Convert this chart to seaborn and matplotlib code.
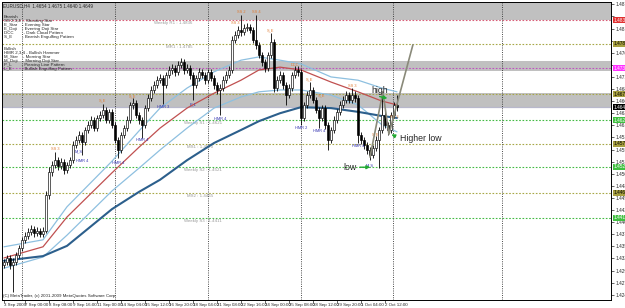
import matplotlib
matplotlib.use("Agg")
import matplotlib.pyplot as plt
import matplotlib.transforms as mtransforms
import numpy as np
import pandas as pd
import seaborn as sns

sns.set_style("white")
plt.rcParams['font.family'] = ['Liberation Sans', 'DejaVu Sans']

# ---------------- data (EURUSD H4) ----------------
opens = [1.4310, 1.4316, 1.4325, 1.4310, 1.4316, 1.4331, 1.4346, 1.4364, 1.4372, 1.4381,
         1.4387, 1.4379, 1.4383, 1.4377, 1.4383, 1.4460, 1.4510, 1.4525, 1.4535, 1.4523,
         1.4531, 1.4514, 1.4525, 1.4535, 1.4568, 1.4578, 1.4589, 1.4574, 1.4600, 1.4611,
         1.4621, 1.4604, 1.4626, 1.4632, 1.4643, 1.4621, 1.4639, 1.4611, 1.4578, 1.4557,
         1.4589, 1.4604, 1.4621, 1.4654, 1.4658, 1.4632, 1.4621, 1.4611, 1.4647, 1.4669,
         1.4686, 1.4697, 1.4707, 1.4712, 1.4697, 1.4718, 1.4729, 1.4733, 1.4725, 1.4740,
         1.4746, 1.4729, 1.4733, 1.4718, 1.4697, 1.4712, 1.4725, 1.4718, 1.4707, 1.4725,
         1.4712, 1.4697, 1.4686, 1.4690, 1.4707, 1.4718, 1.4729, 1.4793, 1.4804, 1.4815,
         1.4811, 1.4819, 1.4821, 1.4815, 1.4793, 1.4783, 1.4761, 1.4746, 1.4733, 1.4761,
         1.4789, 1.4690, 1.4707, 1.4718, 1.4697, 1.4675, 1.4690, 1.4718, 1.4729, 1.4725,
         1.4626, 1.4654, 1.4675, 1.4686, 1.4664, 1.4643, 1.4626, 1.4647, 1.4611, 1.4578,
         1.4600, 1.4621, 1.4639, 1.4654, 1.4664, 1.4675, 1.4664, 1.4675, 1.4669, 1.4589,
         1.4578, 1.4568, 1.4557, 1.4546, 1.4561, 1.4578, 1.4600, 1.4632, 1.4611, 1.4600,
         1.4632, 1.4654]
closes = [1.4316, 1.4325, 1.4310, 1.4316, 1.4331, 1.4346, 1.4364, 1.4372, 1.4381, 1.4387,
          1.4379, 1.4383, 1.4377, 1.4383, 1.4460, 1.4510, 1.4525, 1.4535, 1.4523, 1.4531,
          1.4514, 1.4525, 1.4535, 1.4568, 1.4578, 1.4589, 1.4574, 1.4600, 1.4611, 1.4621,
          1.4604, 1.4626, 1.4632, 1.4643, 1.4621, 1.4639, 1.4611, 1.4578, 1.4557, 1.4589,
          1.4604, 1.4621, 1.4654, 1.4658, 1.4632, 1.4621, 1.4611, 1.4647, 1.4669, 1.4686,
          1.4697, 1.4707, 1.4712, 1.4697, 1.4718, 1.4729, 1.4733, 1.4725, 1.4740, 1.4746,
          1.4729, 1.4733, 1.4718, 1.4697, 1.4712, 1.4725, 1.4718, 1.4707, 1.4725, 1.4712,
          1.4697, 1.4686, 1.4690, 1.4707, 1.4718, 1.4729, 1.4793, 1.4804, 1.4815, 1.4811,
          1.4819, 1.4821, 1.4815, 1.4793, 1.4783, 1.4761, 1.4746, 1.4733, 1.4761, 1.4789,
          1.4690, 1.4707, 1.4718, 1.4697, 1.4675, 1.4690, 1.4718, 1.4729, 1.4725, 1.4626,
          1.4654, 1.4675, 1.4686, 1.4664, 1.4643, 1.4626, 1.4647, 1.4611, 1.4578, 1.4600,
          1.4621, 1.4639, 1.4654, 1.4664, 1.4675, 1.4664, 1.4675, 1.4669, 1.4589, 1.4578,
          1.4568, 1.4557, 1.4546, 1.4561, 1.4578, 1.4600, 1.4632, 1.4611, 1.4600, 1.4632,
          1.4654, 1.4649]
highs = [1.4323, 1.4332, 1.4331, 1.4324, 1.4338, 1.4353, 1.4371, 1.4380, 1.4390, 1.4395,
         1.4393, 1.4391, 1.4390, 1.4392, 1.4468, 1.4520, 1.4534, 1.4553, 1.4542, 1.4539,
         1.4538, 1.4532, 1.4543, 1.4576, 1.4586, 1.4597, 1.4595, 1.4607, 1.4619, 1.4630,
         1.4628, 1.4633, 1.4640, 1.4656, 1.4650, 1.4646, 1.4645, 1.4618, 1.4585, 1.4596,
         1.4611, 1.4629, 1.4661, 1.4669, 1.4665, 1.4639, 1.4628, 1.4654, 1.4677, 1.4694,
         1.4705, 1.4715, 1.4720, 1.4719, 1.4725, 1.4737, 1.4742, 1.4740, 1.4748, 1.4755,
         1.4753, 1.4741, 1.4740, 1.4725, 1.4719, 1.4733, 1.4732, 1.4725, 1.4732, 1.4731,
         1.4719, 1.4704, 1.4698, 1.4715, 1.4726, 1.4737, 1.4801, 1.4812, 1.4823, 1.4847,
         1.4827, 1.4829, 1.4828, 1.4822, 1.4847, 1.4790, 1.4768, 1.4753, 1.4768, 1.4808,
         1.4796, 1.4715, 1.4726, 1.4725, 1.4704, 1.4698, 1.4725, 1.4738, 1.4737, 1.4732,
         1.4661, 1.4683, 1.4703, 1.4693, 1.4671, 1.4650, 1.4654, 1.4654, 1.4618, 1.4607,
         1.4629, 1.4646, 1.4662, 1.4672, 1.4683, 1.4682, 1.4690, 1.4683, 1.4676, 1.4596,
         1.4585, 1.4575, 1.4564, 1.4568, 1.4586, 1.4607, 1.4679, 1.4640, 1.4618, 1.4639,
         1.4661, 1.4675]
lows = [1.4303, 1.4309, 1.4302, 1.4252, 1.4310, 1.4325, 1.4340, 1.4357, 1.4366, 1.4375,
        1.4371, 1.4372, 1.4369, 1.4370, 1.4378, 1.4452, 1.4502, 1.4518, 1.4515, 1.4516,
        1.4506, 1.4508, 1.4519, 1.4530, 1.4561, 1.4571, 1.4546, 1.4568, 1.4593, 1.4604,
        1.4597, 1.4598, 1.4619, 1.4625, 1.4614, 1.4615, 1.4604, 1.4571, 1.4540, 1.4550,
        1.4582, 1.4597, 1.4615, 1.4646, 1.4625, 1.4613, 1.4583, 1.4604, 1.4640, 1.4662,
        1.4679, 1.4690, 1.4700, 1.4656, 1.4690, 1.4711, 1.4721, 1.4717, 1.4718, 1.4733,
        1.4721, 1.4722, 1.4710, 1.4664, 1.4690, 1.4705, 1.4711, 1.4699, 1.4700, 1.4705,
        1.4689, 1.4678, 1.4632, 1.4683, 1.4700, 1.4711, 1.4722, 1.4786, 1.4797, 1.4803,
        1.4804, 1.4812, 1.4808, 1.4786, 1.4775, 1.4754, 1.4738, 1.4725, 1.4727, 1.4754,
        1.4682, 1.4683, 1.4700, 1.4689, 1.4654, 1.4668, 1.4683, 1.4711, 1.4717, 1.4611,
        1.4619, 1.4647, 1.4668, 1.4657, 1.4636, 1.4604, 1.4619, 1.4603, 1.4557, 1.4571,
        1.4593, 1.4614, 1.4632, 1.4647, 1.4657, 1.4657, 1.4657, 1.4661, 1.4572, 1.4570,
        1.4560, 1.4549, 1.4535, 1.4539, 1.4554, 1.4518, 1.4593, 1.4604, 1.4590, 1.4593,
        1.4625, 1.4640]

# moving averages / envelope, sampled at bar indices
ma_bars = [0, 13, 21, 36, 45, 52, 61, 70, 79, 85, 92, 99, 109, 118, 126, 131]
ma_slow = [1.4319, 1.4329, 1.4351, 1.4430, 1.4467, 1.4493, 1.4535, 1.4572, 1.4600, 1.4619,
           1.4636, 1.4649, 1.4647, 1.4639, 1.4630, 1.4626]
ma_mid = [1.4325, 1.4349, 1.4413, 1.4508, 1.4563, 1.4604, 1.4647, 1.4679, 1.4707, 1.4729,
          1.4735, 1.4729, 1.4703, 1.4682, 1.4662, 1.4654]
band_up = [1.4349, 1.4364, 1.4435, 1.4533, 1.4598, 1.4647, 1.4690, 1.4725, 1.4750, 1.4757,
           1.4750, 1.4742, 1.4714, 1.4707, 1.4690, 1.4682]
band_dn = [1.4303, 1.4327, 1.4374, 1.4469, 1.4518, 1.4557, 1.4604, 1.4647, 1.4671, 1.4682,
           1.4686, 1.4686, 1.4675, 1.4654, 1.4611, 1.4596]

# hand-drawn zigzag
zig_bars = [122, 126.3, 128.3, 136.3]
zig_prices = [1.4542, 1.4682, 1.4591, 1.4783]

# time axis
time_bars = [0, 7, 15, 23, 31, 39, 47, 55, 63, 71, 79, 87, 95, 103, 111, 119, 127]
time_labels = ["3 Sep 2009", "7 Sep 00:00", "8 Sep 08:00", "9 Sep 16:00", "11 Sep 00:00",
               "14 Sep 04:00", "15 Sep 12:00", "16 Sep 20:00", "18 Sep 04:00",
               "21 Sep 08:00", "22 Sep 16:00", "24 Sep 00:00", "25 Sep 08:00",
               "28 Sep 12:00", "29 Sep 20:00", "1 Oct 04:00", "2 Oct 12:00"]
vgrid_bars = [6, 37, 68, 99, 129.5, 166]

# price axis
price_ticks = [1.4870, 1.4844, 1.4818, 1.4792, 1.4766, 1.4740, 1.4714, 1.4688, 1.4662,
               1.4636, 1.4610, 1.4584, 1.4558, 1.4532, 1.4506, 1.4480, 1.4454, 1.4428,
               1.4402, 1.4376, 1.4350, 1.4324, 1.4298, 1.4272, 1.4246]

# horizontal levels
level_values = [1.4836, 1.4785, 1.4733, 1.4677, 1.4621, 1.4570, 1.4521, 1.4465, 1.4411]
level_colors = ["#d8607a", "#a8a848", "#c050c0", "#a8a848", "#44bb44", "#a8a848",
                "#44bb44", "#a8a848", "#44bb44"]
label_bg = ["#e03030", "#a8a040", "#ff30ff", "#a8a040", "#40c040", "#a8a040",
            "#40c040", "#a8a040", "#40c040"]
level_names = ["Weekly R1 : ", "MR1 : ", "", "", "Weekly S1 : ", "MS1 : ",
               "Weekly S2 : ", "MS2 : ", "Weekly S3 : "]
level_name_bars = [50, 54, 0, 0, 60, 61, 60, 61, 60]
current_price = 1.4649

gray_bands = [(1.4836, 1.4880), (1.4727, 1.4748), (1.4647, 1.4679)]

pattern_bars = [17, 33, 43, 77, 79, 84, 89, 97, 102, 106, 116, 124, 130,
                25, 26, 38, 46, 53, 63, 72, 99, 105, 118, 122]
pattern_prices = [1.4560, 1.4664, 1.4673, 1.4830, 1.4853, 1.4853, 1.4815, 1.4740, 1.4708,
                  1.4675, 1.4695, 1.4590, 1.4628,
                  1.4553, 1.4534, 1.4530, 1.4578, 1.4650, 1.4656, 1.4624, 1.4604, 1.4598,
                  1.4566, 1.4524]
pattern_texts = ["SS 3", "S_E", "S_E", "SS 3", "SS 2", "SS 4", "S_E", "DCC", "S_E",
                 "S_E", "SS 3", "S_E", "SS 3",
                 "M_S", "HMR 4", "HMR 4", "HMR 4", "HMR 3", "P_L", "HMR 4", "HMR 2",
                 "HMR 4", "HMR 4", "M_S"]

legend_bear = ["Bearish", "SS 2,3,4  - Shooting Star", "E_Star    - Evening Star",
               "E_Doji    - Evening Doji Star", "DCC        - Dark Cloud Pattern",
               "S_E        - Bearish Engulfing Pattern"]
legend_bull = ["Bullish", "HMR 2,3,4 - Bullish Hammer", "M_Star    - Morning Star",
               "M_Doji    - Morning Doji Star", "P_L        - Piercing Line Pattern",
               "L_E        - Bullish Engulfing Pattern"]

# ---------------- figure ----------------
W, H = 625, 308
fig = plt.figure(figsize=(W / 100, H / 100), dpi=100)
ax = fig.add_axes([2 / W, 8 / H, 609 / W, 298 / H])
x_lo, x_hi = -0.667, 202.33
y_hi = 1.4875
y_lo = 1.4875 - 298 * 0.00021487
ax.set_xlim(x_lo, x_hi)
ax.set_ylim(y_lo, y_hi)

# gray zones
for lo, hi in gray_bands:
    ax.axhspan(lo, hi, color="#c0c0c0", lw=0, zorder=0)

# level lines
for v, c in zip(level_values, level_colors):
    ax.axhline(v, color=c, lw=0.8, ls=(0, (1.5, 1.5)), zorder=1)
ax.axhline(current_price, color="#b8b8cc", lw=0.9, zorder=1)

# vertical grid
for b in vgrid_bars:
    ax.axvline(b, color="#333333", lw=0.6, ls=(0, (1.2, 1.5)), zorder=1)

# level names
for name, b, v in zip(level_names, level_name_bars, level_values):
    if name:
        ax.text(b, v - 0.0002, f"{name}{v:.4f}", fontsize=3.2, color="#9a9a9a",
                va="top", ha="left", zorder=2)

# moving averages (seaborn)
ma_df = pd.DataFrame({"bar": ma_bars, "slow": ma_slow, "mid": ma_mid,
                      "up": band_up, "dn": band_dn})
sns.lineplot(data=ma_df, x="bar", y="up", ax=ax, color="#8ec0e0", lw=0.9, zorder=3)
sns.lineplot(data=ma_df, x="bar", y="dn", ax=ax, color="#8ec0e0", lw=0.9, zorder=3)
sns.lineplot(data=ma_df, x="bar", y="mid", ax=ax, color="#c05050", lw=0.9, zorder=3)
sns.lineplot(data=ma_df, x="bar", y="slow", ax=ax, color="#2c5f8c", lw=1.5, zorder=3)

# candles
df = pd.DataFrame({"o": opens, "h": highs, "l": lows, "c": closes})
df["bar"] = np.arange(len(df))
ax.vlines(df["bar"], df["l"], df["h"], color="black", lw=0.6, zorder=4)
up = df["c"] >= df["o"]
body_lo = np.minimum(df["o"], df["c"])
body_h = np.maximum(np.abs(df["c"] - df["o"]), 0.00008)
ax.bar(df["bar"][up], body_h[up], bottom=body_lo[up], width=0.65, color="white",
       edgecolor="black", linewidth=0.45, zorder=5)
ax.bar(df["bar"][~up], body_h[~up], bottom=body_lo[~up], width=0.65, color="black",
       edgecolor="black", linewidth=0.45, zorder=5)

# pattern labels
for b, p, t in zip(pattern_bars, pattern_prices, pattern_texts):
    col = "#3030b0" if t.startswith(("HMR", "M_", "P_L", "L_E")) else "#e07a30"
    ax.text(b, p, t, fontsize=2.8, color=col, ha="center", va="center", zorder=6)

# zigzag
ax.plot(zig_bars, zig_prices, color="#8a8a7a", lw=1.2, zorder=6, clip_on=False)

# annotations
green = "#22aa33"
ax.text(122.3, 1.4684, "high", fontsize=6.3, ha="left", va="center", zorder=7)
ax.annotate("", xy=(128.7, 1.4667), xytext=(124.3, 1.4673),
            arrowprops=dict(arrowstyle="-|>", color=green, lw=1.0, mutation_scale=5), zorder=7)
ax.text(132.0, 1.4581, "Higher low", fontsize=6.3, ha="left", va="center", zorder=7)
ax.annotate("", xy=(128.3, 1.4593), xytext=(131.3, 1.4584),
            arrowprops=dict(arrowstyle="-|>", color=green, lw=1.0, mutation_scale=5), zorder=7)
ax.text(113.0, 1.4520, "low", fontsize=6.3, ha="left", va="center", zorder=7)
ax.annotate("", xy=(123.0, 1.4520), xytext=(117.7, 1.4520),
            arrowprops=dict(arrowstyle="-|>", color=green, lw=1.0, mutation_scale=5), zorder=7)

# header & legend text
ax.text(0.002, 0.997, "EURUSD,H4  1.4654 1.4675 1.4640 1.4649", transform=ax.transAxes,
        fontsize=3.3, va="top", ha="left", zorder=8)
ax.text(0.003, 0.958, "\n".join(legend_bear), transform=ax.transAxes, fontsize=3.2,
        va="top", ha="left", linespacing=1.05, zorder=8)
ax.text(0.003, 0.850, "\n".join(legend_bull), transform=ax.transAxes, fontsize=3.2,
        va="top", ha="left", linespacing=1.05, zorder=8)
ax.text(0.002, 0.008, "(C) MetaTrader, (c) 2001-2009 MetaQuotes Software Corp.",
        transform=ax.transAxes, fontsize=3.2, va="bottom", ha="left", zorder=8)

# axes styling
for s in ax.spines.values():
    s.set_color("black")
    s.set_linewidth(0.7)
ax.set_xlabel("")
ax.set_ylabel("")
ax.yaxis.tick_right()
tag_values = level_values + [current_price]
ax.set_yticks(price_ticks)
ax.set_yticklabels(["" if min(abs(v - t) for t in tag_values) < 0.0009 else f"{v:.4f}"
                    for v in price_ticks])
ax.tick_params(axis="y", length=2, width=0.5, pad=1, labelsize=3.4, right=True, left=False)
ax.set_xticks(time_bars)
ax.set_xticklabels(time_labels)
ax.tick_params(axis="x", length=2, width=0.5, pad=0.5, labelsize=3.2, bottom=True)
for lbl in ax.get_xticklabels():
    lbl.set_ha("left")

# coloured price tags on the right axis
trans = mtransforms.blended_transform_factory(ax.transAxes, ax.transData)
for v, c in zip(tag_values, label_bg + ["black"]):
    tc = "white" if c in ("black", "#ff30ff", "#e03030", "#40c040") else "black"
    ax.text(1.004, v, f"{v:.4f}", transform=trans, fontsize=3.4, color=tc,
            va="center", ha="left", clip_on=False, zorder=9,
            bbox=dict(facecolor=c, edgecolor="none", pad=0.4))

fig.savefig("out.png", dpi=100, facecolor="white")
